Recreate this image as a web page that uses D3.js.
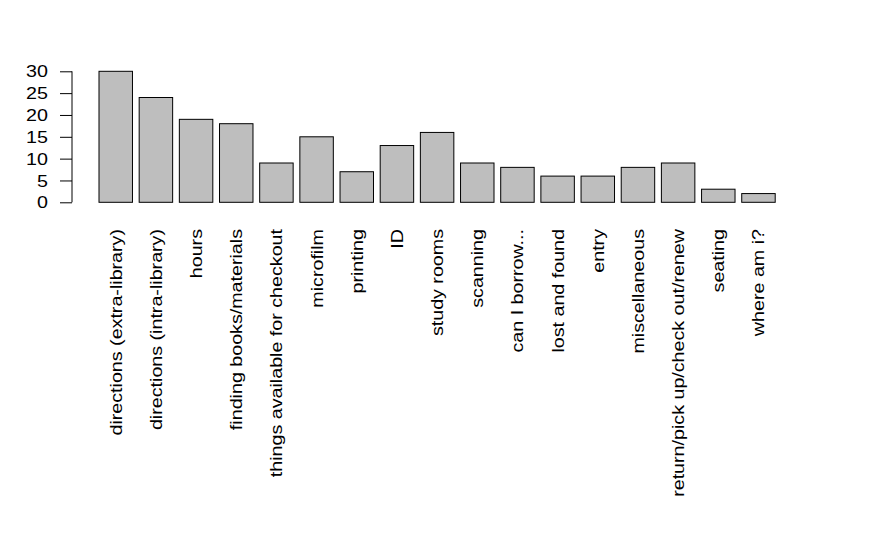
<!DOCTYPE html>
<html><head><meta charset="utf-8">
<script src="https://cdn.jsdelivr.net/npm/d3@7"></script>
<style>body{margin:0;background:#fff}svg{display:block}</style>
</head><body>
<svg id="c" width="875" height="540"></svg>
<script>
const categories = ["directions (extra-library)","directions (intra-library)","hours","finding books/materials","things available for checkout","microfilm","printing","ID","study rooms","scanning","can I borrow...","lost and found","entry","miscellaneous","return/pick up/check out/renew","seating","where am i?"];
const values = [30,24,19,18,9,15,7,13,16,9,8,6,6,8,9,3,2];
const yTicks = [0,5,10,15,20,25,30];

const svg = d3.select("#c");
const font = "'Liberation Sans', Arial, Helvetica, sans-serif";
const sx = 1.23; // horizontal glyph stretch seen in the reference
const x = d3.scaleBand().domain(categories).range([99, 775.2]).paddingInner(0.1668).paddingOuter(0);
const y = d3.scaleLinear().domain([0,30]).range([202.3,71.3]);

svg.selectAll("rect.bar").data(categories).enter().append("rect")
  .attr("x",d=>x(d)).attr("y",(d,i)=>y(values[i]))
  .attr("width",x.bandwidth()).attr("height",(d,i)=>y(0)-y(values[i]))
  .attr("fill","#bebebe").attr("stroke","#000").attr("stroke-width",1);

const yAxis = svg.append("g").attr("transform","translate(72,0)")
  .call(d3.axisLeft(y).tickValues(yTicks).tickSize(12).tickPadding(5));
yAxis.select(".domain").attr("d","M0,"+y(0)+"V"+y(30)).attr("stroke","#000");
yAxis.selectAll("line").attr("stroke","#000");
yAxis.selectAll("text").attr("x",0).attr("font-family",font).attr("font-size",16).attr("fill","#000")
  .attr("dy","0.35em").attr("transform","translate(-24,0) scale("+sx+",1)");

svg.selectAll("text.cat").data(categories).enter().append("text")
  .attr("class","cat")
  .attr("transform",d=>"translate("+(x(d)+x.bandwidth()/2+6)+",229) rotate(-90) scale("+sx+",1)")
  .attr("text-anchor","end")
  .attr("font-family",font).attr("font-size",16).attr("fill","#000")
  .text(d=>d);
</script>
</body></html>
